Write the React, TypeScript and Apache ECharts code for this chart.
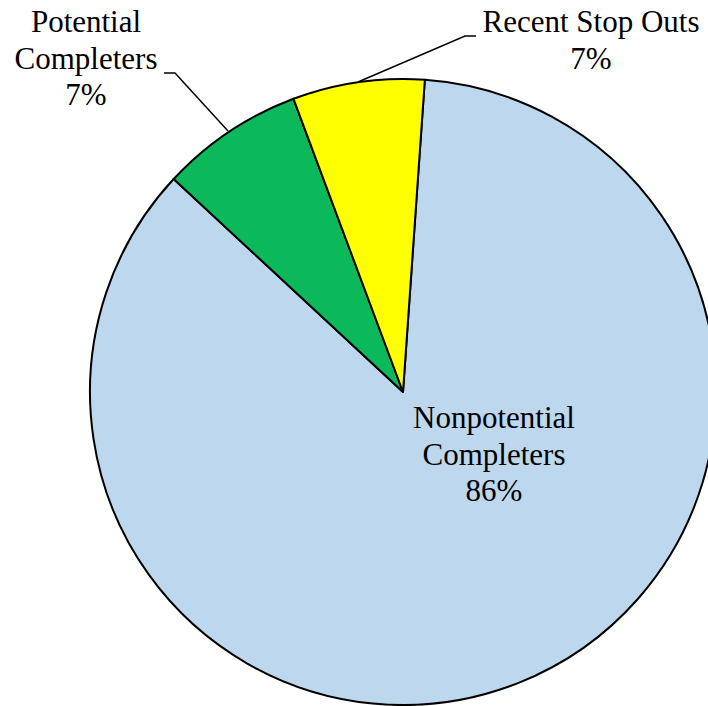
import React, { useEffect, useRef } from "react";
import * as echarts from "echarts";

const categories = ["Nonpotential Completers", "Potential Completers", "Recent Stop Outs"];
const values = [85.8, 7.4, 6.8];
const colors = ["#BDD7EE", "#0BB85A", "#FFFF00"];

export default function App() {
  const ref = useRef<HTMLDivElement>(null);
  useEffect(() => {
    if (!ref.current) return;
    const chart = echarts.init(ref.current, null, { renderer: "svg" });
    const labelPos = [
      { x: 494, y: 454, line: null },
      { x: 86, y: 58, line: [[228, 131], [175, 73], [164, 73]] },
      { x: 591, y: 40, line: [[358, 82], [465, 36], [476, 36]] },
    ];
    chart.setOption({
      animation: false,
      backgroundColor: "#ffffff",
      series: [
        {
          type: "pie",
          center: [403, 392],
          radius: 313,
          startAngle: 86,
          clockwise: true,
          percentPrecision: 0,
          avoidLabelOverlap: false,
          itemStyle: { borderColor: "#000", borderWidth: 2 },
          label: {
            show: true,
            fontFamily: "'Liberation Serif', 'Times New Roman', serif",
            fontSize: 31,
            lineHeight: 36.5,
            color: "#000",
            align: "center",
            formatter: (p: any) => p.name.replace(" Completers", "\nCompleters") + "\n" + p.percent + "%",
          },
          labelLine: { show: true, lineStyle: { color: "#000", width: 1.5 }, length: 20, length2: 10 },
          labelLayout: (params: any) => {
            const lp = labelPos[params.dataIndex];
            const res: any = { x: lp.x, y: lp.y, align: "center", verticalAlign: "middle" };
            if (lp.line) res.labelLinePoints = lp.line;
            return res;
          },
          data: categories.map((c, i) => ({
            name: c,
            value: values[i],
            itemStyle: { color: colors[i] },
            ...(i === 0 ? { labelLine: { show: false } } : {}),
          })),
        },
      ],
    });
    return () => chart.dispose();
  }, []);
  return <div ref={ref} style={{ position: "fixed", left: 0, top: 0, width: 708, height: 706 }} />;
}
